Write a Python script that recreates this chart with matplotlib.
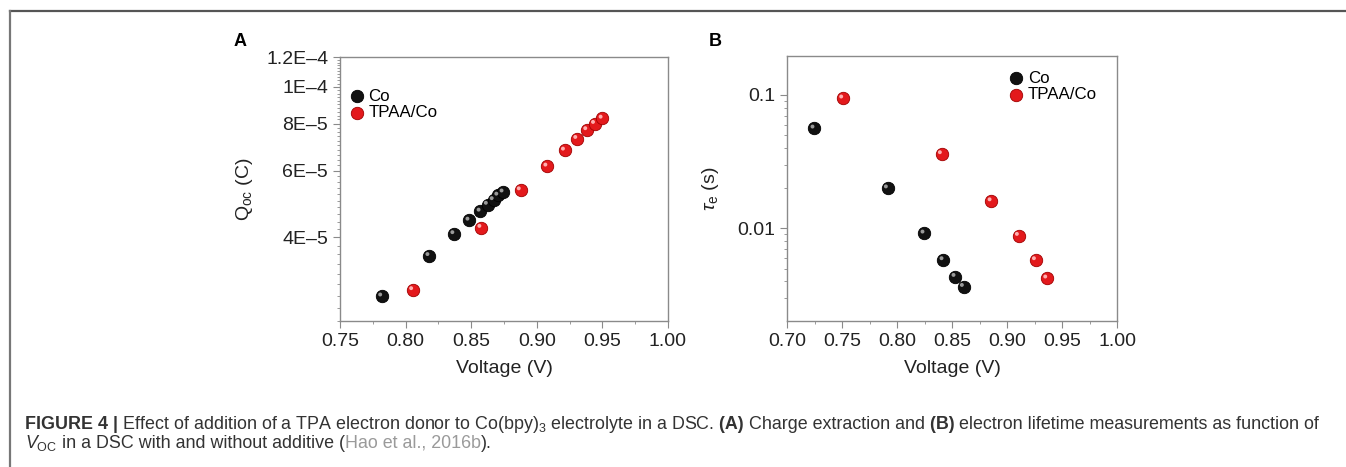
import numpy as np
import matplotlib
matplotlib.use('Agg')
import matplotlib.pyplot as plt
from matplotlib.ticker import FixedLocator, NullFormatter, LogLocator
from matplotlib.lines import Line2D
from matplotlib.transforms import offset_copy

plt.rcParams['font.family'] = ['Liberation Sans', 'DejaVu Sans']
plt.rcParams['mathtext.fontset'] = 'custom'
plt.rcParams['mathtext.rm'] = 'Liberation Sans'
plt.rcParams['mathtext.it'] = 'Liberation Sans:italic'
plt.rcParams['mathtext.bf'] = 'Liberation Sans:bold'

# panel A: charge extraction
volt_a_co = [0.782, 0.818, 0.837, 0.8485, 0.857, 0.8625, 0.867, 0.8705, 0.8745]
q_co = [2.79e-5, 3.57e-5, 4.08e-5, 4.43e-5, 4.68e-5, 4.88e-5, 5.02e-5, 5.16e-5, 5.26e-5]
volt_a_tpaa = [0.8056, 0.8576, 0.8876, 0.9079, 0.9213, 0.9307, 0.9383, 0.9442, 0.950]
q_tpaa = [2.90e-5, 4.24e-5, 5.33e-5, 6.16e-5, 6.79e-5, 7.29e-5, 7.69e-5, 7.99e-5, 8.25e-5]

# panel B: electron lifetime
volt_b_co = [0.7248, 0.7915, 0.8248, 0.8421, 0.853, 0.8606]
tau_co = [0.0562, 0.0200, 0.00917, 0.00579, 0.00434, 0.00365]
volt_b_tpaa = [0.7509, 0.8406, 0.8858, 0.9106, 0.9261, 0.9364]
tau_tpaa = [0.0944, 0.0361, 0.0160, 0.00881, 0.00579, 0.00422]

q_ticks = [4e-5, 6e-5, 8e-5, 1e-4, 1.2e-4]
q_ticklabels = ['4E\u20135', '6E\u20135', '8E\u20135', '1E\u20134', '1.2E\u20134']
tau_ticks = [0.01, 0.1]
tau_ticklabels = ['0.01', '0.1']
xa_ticks = [0.75, 0.80, 0.85, 0.90, 0.95, 1.00]
xb_ticks = [0.70, 0.75, 0.80, 0.85, 0.90, 0.95, 1.00]

W, H = 1346, 467
fig = plt.figure(figsize=(W / 100, H / 100), dpi=100)

def px_box(l, r, t, b):
    return [l / W, 1 - b / H, (r - l) / W, (b - t) / H]

axA = fig.add_axes(px_box(340, 668, 57, 321))
axB = fig.add_axes(px_box(787, 1117, 56, 321))

black, red = '#111111', '#e3191c'

def balls(ax, x, y, col, edge, shine, label):
    ax.scatter(x, y, s=80, c=col, edgecolors=edge, linewidths=0.6, zorder=3, label=label)
    tr = offset_copy(ax.transData, fig=fig, x=-1.8, y=1.8, units='dots')
    ax.scatter(x, y, s=8, c=shine, edgecolors='none', zorder=4, transform=tr)

def style(ax):
    for s in ax.spines.values():
        s.set_color('#8a8a8a')
        s.set_linewidth(1.0)
    ax.tick_params(which='both', direction='out', colors='#8a8a8a', labelcolor='#222222',
                   labelsize=14, top=False, right=False)
    ax.tick_params(which='major', length=5)
    ax.tick_params(which='minor', length=2.5)

# panel A
balls(axA, volt_a_co, q_co, black, '#000000', '#9a9a9a', 'Co')
balls(axA, volt_a_tpaa, q_tpaa, red, '#a00000', '#ffb0b0', 'TPAA/Co')
axA.set_yscale('log')
axA.set_xlim(0.75, 1.00)
axA.set_ylim(2.4e-5, 1.2e-4)
axA.yaxis.set_major_locator(FixedLocator(q_ticks))
axA.set_yticklabels(q_ticklabels)
axA.yaxis.set_minor_locator(FixedLocator(np.arange(2.4e-5, 1.2e-4, 2e-6)))
axA.yaxis.set_minor_formatter(NullFormatter())
axA.set_xticks(xa_ticks)
axA.set_xticklabels(['%.2f' % v for v in xa_ticks])
axA.set_xticks(np.arange(0.775, 1.0, 0.05), minor=True)
style(axA)
axA.set_xlabel('Voltage (V)', fontsize=14, color='#222222', labelpad=7)
axA.set_ylabel(r'$\mathrm{Q}_{\mathrm{oc}}$ (C)', fontsize=14, color='#222222', labelpad=8)
axA.legend(loc='upper left', bbox_to_anchor=(0.035, 0.88), frameon=False, fontsize=12.2,
           handlelength=0.6, handletextpad=0.4, labelspacing=0.1, borderpad=0,
           borderaxespad=0, scatterpoints=1)

# panel B
balls(axB, volt_b_co, tau_co, black, '#000000', '#9a9a9a', 'Co')
balls(axB, volt_b_tpaa, tau_tpaa, red, '#a00000', '#ffb0b0', 'TPAA/Co')
axB.set_yscale('log')
axB.set_xlim(0.70, 1.00)
axB.set_ylim(0.00202, 0.196)
axB.yaxis.set_major_locator(FixedLocator(tau_ticks))
axB.set_yticklabels(tau_ticklabels)
axB.yaxis.set_minor_locator(LogLocator(base=10, subs=np.arange(2, 10)))
axB.yaxis.set_minor_formatter(NullFormatter())
axB.set_xticks(xb_ticks)
axB.set_xticklabels(['%.2f' % v for v in xb_ticks])
axB.set_xticks(np.arange(0.725, 1.0, 0.05), minor=True)
style(axB)
axB.set_xlabel('Voltage (V)', fontsize=14, color='#222222', labelpad=7)
axB.set_ylabel(r'$\tau_{\mathrm{e}}$ (s)', fontsize=14, color='#222222', labelpad=12)
axB.legend(loc='upper left', bbox_to_anchor=(0.678, 0.945), frameon=False, fontsize=12.2,
           handlelength=0.6, handletextpad=0.4, labelspacing=0.1, borderpad=0,
           borderaxespad=0, scatterpoints=1)

fig.text(240 / W, 1 - 42 / H, 'A', fontsize=13, fontweight='bold', ha='center', va='center')
fig.text(715 / W, 1 - 42 / H, 'B', fontsize=13, fontweight='bold', ha='center', va='center')

# frame
fig.add_artist(Line2D([10 / W, 1], [1 - 10.5 / H] * 2, color='#555555', lw=1.6))
fig.add_artist(Line2D([10 / W] * 2, [0, 1 - 10.5 / H], color='#777777', lw=1.6))

# caption, placed piece by piece
renderer = fig.canvas.get_renderer()
cap_size = 12.9
txt = '#333333'

def line(y_px, pieces):
    x = 25 / W
    for s, kw in pieces:
        t = fig.text(x, 1 - y_px / H, s, fontsize=cap_size, va='baseline', ha='left', **kw)
        x += t.get_window_extent(renderer).width / W

line(429, [
    ('FIGURE 4 |', dict(fontweight='bold', color=txt)),
    (' Effect of addition of a TPA electron donor to Co(bpy)$_3$ electrolyte in a DSC.', dict(color=txt)),
    (' (A)', dict(fontweight='bold', color=txt)),
    (' Charge extraction and', dict(color=txt)),
    (' (B)', dict(fontweight='bold', color=txt)),
    (' electron lifetime measurements as function of', dict(color=txt)),
])
line(448, [
    (r'$V_{\mathrm{OC}}$', dict(color=txt)),
    (' in a DSC with and without additive (', dict(color=txt)),
    ('Hao et al., 2016b', dict(color='#9a9a9a')),
    (').', dict(color=txt)),
])

fig.savefig('out.png', dpi=100)
